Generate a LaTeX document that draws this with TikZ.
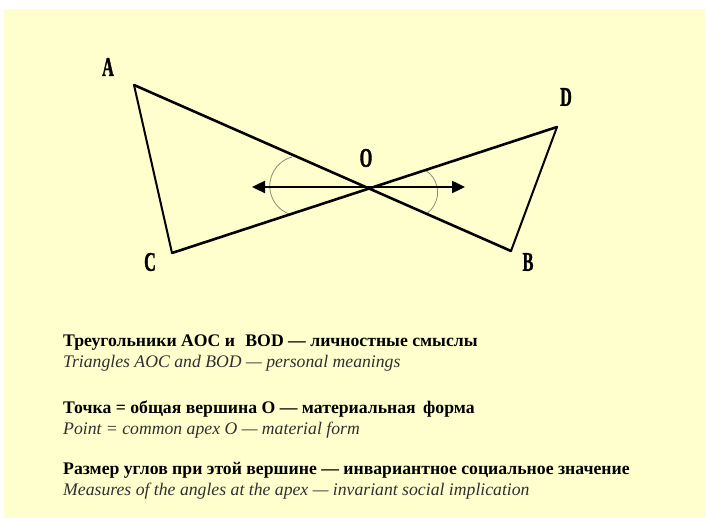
\documentclass[tikz,border=0pt]{standalone}
\usepackage{fontspec}
\setmainfont{Liberation Serif}
\newfontfamily\lblfont[FakeStretch=0.6,FakeBold=1.2]{Liberation Serif}
\usetikzlibrary{arrows.meta}
\definecolor{paper}{RGB}{255,255,206}
\definecolor{arcgray}{RGB}{140,140,118}
\definecolor{engtext}{RGB}{48,48,48}

\begin{document}
\begin{tikzpicture}[x=1pt,y=-1pt,
  vtx/.style={inner sep=0pt,font=\lblfont\bfseries\fontsize{27}{28}\selectfont},
  rus/.style={anchor=base west,inner sep=0pt,font=\bfseries\fontsize{17.7}{20}\selectfont},
  eng/.style={anchor=base west,inner sep=0pt,text=engtext,font=\itshape\fontsize{17.7}{20}\selectfont},
  side/.style={line width=2pt,line cap=round,line join=round},
  diag/.style={line width=2.6pt,line cap=round},
  anglearc/.style={arcgray,line width=0.8pt}]
\useasboundingbox (0,0) rectangle (706,518);
\fill[white] (0,0) rectangle (706,518);
\fill[paper] (4,9) rectangle (705,518);

\coordinate (A) at (134,85);
\coordinate (C) at (172,253);
\coordinate (D) at (557,127);
\coordinate (B) at (511,251);
\coordinate (O) at (intersection of A--B and C--D);
\coordinate (L) at (252,187);
\coordinate (R) at (465,187);

\draw[anglearc] (292,157) arc[start angle=255,end angle=111,radius=30];
\draw[anglearc] (425,170) arc[start angle=-59,end angle=58,radius=26];

\draw[side] (A) -- (C);
\draw[side] (D) -- (B);
\draw[diag] (A) -- (O) -- (B);
\draw[diag] (C) -- (O) -- (D);
\draw[line width=2.4pt,{Triangle[length=13pt,width=12pt]}-{Triangle[length=13pt,width=12pt]}] (L) -- (R);

\node[vtx] (lA) at (108,67) {A};
\node[vtx] (lC) at (150,262) {C};
\node[vtx] (lO) at (366,158) {O};
\node[vtx] (lD) at (566,97) {D};
\node[vtx] (lB) at (528,262) {B};

\node[rus] (r1) at (63,346) {Треугольники AOC и\,\, BOD — личностные смыслы};
\node[eng] (e1) at (63,367) {Triangles AOC and BOD — personal meanings};
\node[rus] (r2) at (63,413) {Точка = общая вершина O — материальная\, форма};
\node[eng] (e2) at (63,434) {Point = common apex O — material form};
\node[rus] (r3) at (63,474) {Размер углов при этой вершине — инвариантное социальное значение};
\node[eng] (e3) at (63,495) {Measures of the angles at the apex — invariant social implication};
\end{tikzpicture}
\end{document}
